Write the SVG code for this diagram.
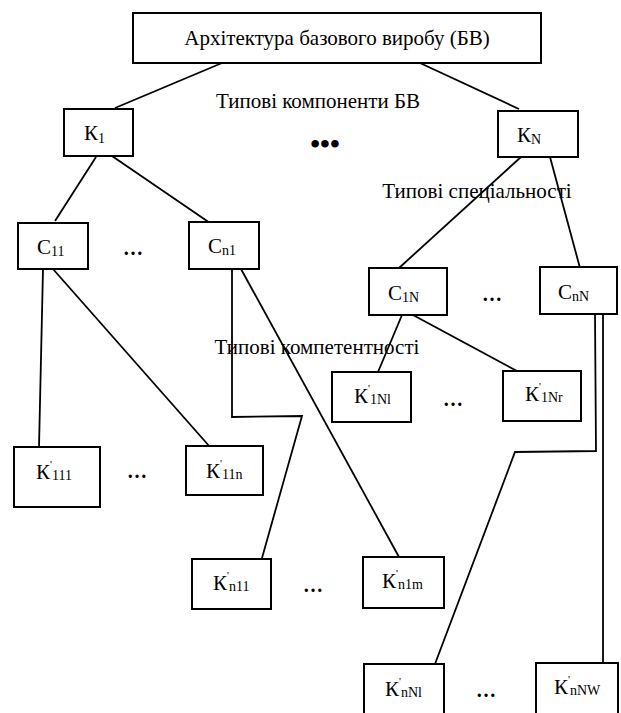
<svg xmlns="http://www.w3.org/2000/svg" width="621" height="713" viewBox="0 0 621 713">
<style>
.box{fill:#fff;stroke:#000;stroke-width:2}
.ln{fill:none;stroke:#000;stroke-width:1.8}
text{font-family:"Liberation Serif","Times New Roman",serif;fill:#000}
.t{font-size:21px}
.n{font-size:21px;text-anchor:middle}
.dots{font-size:20px;font-weight:bold;text-anchor:middle}
.sb{font-size:14px}
.sp{font-size:11px}
</style>
<rect width="621" height="713" fill="#fff"/>
<g id="connectors">
<line class="ln" x1="222" y1="63" x2="115" y2="108"/>
<line class="ln" x1="420" y1="63" x2="519" y2="109"/>
<line class="ln" x1="96" y1="157" x2="55" y2="221"/>
<line class="ln" x1="112" y1="156" x2="210" y2="223"/>
<line class="ln" x1="521" y1="157" x2="399" y2="268"/>
<line class="ln" x1="550" y1="157" x2="580" y2="268"/>
<line class="ln" x1="43" y1="269" x2="39" y2="447"/>
<line class="ln" x1="53" y1="269" x2="210" y2="447"/>
<polyline class="ln" points="232,269 232,417 302,416 262,558"/>
<line class="ln" x1="241" y1="269" x2="399" y2="557"/>
<line class="ln" x1="402" y1="315" x2="378" y2="372"/>
<line class="ln" x1="413" y1="315" x2="517" y2="371"/>
<polyline class="ln" points="595,314 596,451 515,452 435,664"/>
<line class="ln" x1="603" y1="314" x2="603" y2="664"/>
</g>
<g id="n-top"><rect class="box" x="133" y="13" width="408" height="50"/><text class="n" x="337" y="45">Архітектура базового виробу (БВ)</text></g>
<g id="lbl-components"><text class="n" x="318" y="108">Типові компоненти БВ</text></g>
<g id="lbl-specialties"><text class="n" x="477" y="198">Типові спеціальності</text></g>
<g id="lbl-competences"><text class="n" x="317" y="354">Типові компетентності</text></g>
<g id="n-K1"><rect class="box" x="64" y="109" width="69" height="47"/><text class="t" x="84" y="140">К<tspan class="sb" dy="3">1</tspan></text></g>
<g id="n-KN"><rect class="box" x="498" y="111" width="80" height="46"/><text class="t" x="517" y="142">К<tspan class="sb" dy="2">N</tspan></text></g>
<g id="d1"><text class="dots" x="325" y="153" style="font-size:28px">•••</text></g>
<g id="n-C11"><rect class="box" x="18" y="223" width="70" height="46"/><text class="t" x="37" y="254">С<tspan class="sb" dy="2">11</tspan></text></g>
<g id="n-Cn1"><rect class="box" x="189" y="222" width="70" height="47"/><text class="t" x="208" y="253">С<tspan class="sb" dy="2">n1</tspan></text></g>
<g id="d2"><text class="dots" x="133" y="255">…</text></g>
<g id="n-C1N"><rect class="box" x="369" y="268" width="78" height="47"/><text class="t" x="388" y="300">С<tspan class="sb" dy="2">1N</tspan></text></g>
<g id="n-CnN"><rect class="box" x="540" y="267" width="77" height="47"/><text class="t" x="558" y="299">С<tspan class="sb" dy="2">nN</tspan></text></g>
<g id="d3"><text class="dots" x="492" y="301">…</text></g>
<g id="n-K1N1"><rect class="box" x="332" y="372" width="79" height="50"/><text class="t" x="354" y="403">К<tspan class="sp" dy="-11">'</tspan><tspan class="sb" dy="12">1Nl</tspan></text></g>
<g id="n-K1Nr"><rect class="box" x="503" y="371" width="78" height="50"/><text class="t" x="525" y="401">К<tspan class="sp" dy="-11">'</tspan><tspan class="sb" dy="12">1Nr</tspan></text></g>
<g id="d4"><text class="dots" x="453" y="406">…</text></g>
<g id="n-K111"><rect class="box" x="14" y="447" width="86" height="60"/><text class="t" x="36" y="479">К<tspan class="sp" dy="-11">'</tspan><tspan class="sb" dy="12">111</tspan></text></g>
<g id="n-K11n"><rect class="box" x="186" y="446" width="77" height="49"/><text class="t" x="206" y="478">К<tspan class="sp" dy="-11">'</tspan><tspan class="sb" dy="12">11n</tspan></text></g>
<g id="d5"><text class="dots" x="137" y="478">…</text></g>
<g id="n-Kn11"><rect class="box" x="192" y="559" width="79" height="50"/><text class="t" x="213" y="590">К<tspan class="sp" dy="-11">'</tspan><tspan class="sb" dy="12">n11</tspan></text></g>
<g id="n-Kn1m"><rect class="box" x="363" y="557" width="81" height="51"/><text class="t" x="382" y="588">К<tspan class="sp" dy="-11">'</tspan><tspan class="sb" dy="12">n1m</tspan></text></g>
<g id="d6"><text class="dots" x="313" y="592">…</text></g>
<g id="n-KnN1"><rect class="box" x="364" y="664" width="80" height="60"/><text class="t" x="385" y="696">К<tspan class="sp" dy="-11">'</tspan><tspan class="sb" dy="12">nNl</tspan></text></g>
<g id="n-KnNW"><rect class="box" x="536" y="663" width="82" height="60"/><text class="t" x="554" y="694">К<tspan class="sp" dy="-11">'</tspan><tspan class="sb" dy="12">nNW</tspan></text></g>
<g id="d7"><text class="dots" x="486" y="697">…</text></g>
</svg>
